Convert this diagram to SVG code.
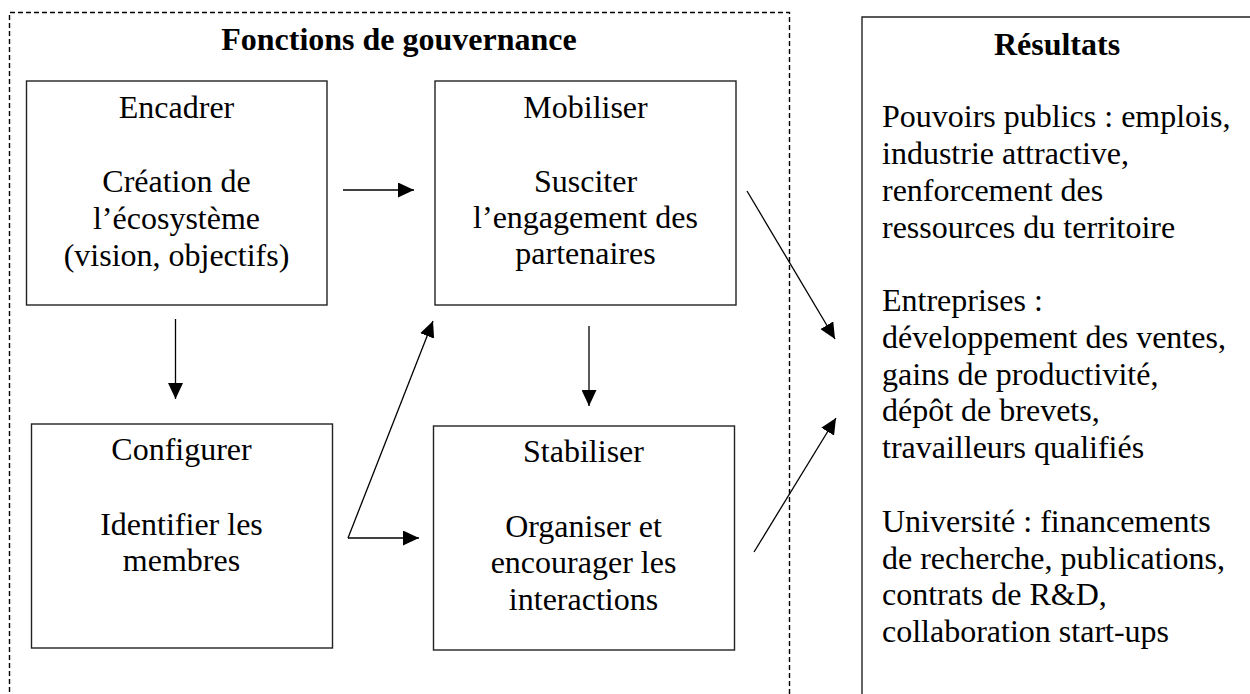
<svg xmlns="http://www.w3.org/2000/svg" width="1250" height="694" viewBox="0 0 1250 694">
<defs>
<marker id="ah" markerUnits="userSpaceOnUse" markerWidth="16" markerHeight="15" refX="16" refY="7.5" orient="auto" viewBox="0 0 16 15">
<path d="M0,0 L16,7.5 L0,15 z" fill="#000"/>
</marker>
<style>
text{font-family:"Liberation Serif","Times New Roman",serif;font-size:32px;fill:#000}
.c{text-anchor:middle}
.b{font-weight:bold}
.box{fill:#fff;stroke:#222;stroke-width:1.4}
.con{stroke:#000;stroke-width:1.3;fill:none}
.arr{marker-end:url(#ah)}
</style>
</defs>
<rect width="1250" height="694" fill="#fff"/>
<g id="gouvernance">
<path d="M9.5,700 V12.5 H789.5 V700" fill="none" stroke="#000" stroke-width="1.4" stroke-dasharray="5,3"/>
<text class="c b" x="399" y="50">Fonctions de gouvernance</text>
</g>
<g id="resultats">
<path d="M862,700 V17 H1260" class="box" fill="none"/>
<text class="c b" x="1057" y="55">Résultats</text>
<text x="882" y="127">Pouvoirs publics : emplois,</text>
<text x="882" y="164">industrie attractive,</text>
<text x="882" y="201">renforcement des</text>
<text x="882" y="238">ressources du territoire</text>
<text x="882" y="311">Entreprises :</text>
<text x="882" y="348">développement des ventes,</text>
<text x="882" y="384.6">gains de productivité,</text>
<text x="882" y="421.4">dépôt de brevets,</text>
<text x="882" y="458.2">travailleurs qualifiés</text>
<text x="882" y="531.8">Université : financements</text>
<text x="882" y="568.6">de recherche, publications,</text>
<text x="882" y="605.4">contrats de R&amp;D,</text>
<text x="882" y="642.2">collaboration start-ups</text>
</g>
<g id="encadrer">
<rect class="box" x="26.5" y="81" width="300.5" height="224"/>
<text class="c" x="176.5" y="118">Encadrer</text>
<text class="c" x="176.5" y="192">Création de</text>
<text class="c" x="176.5" y="229">l’écosystème</text>
<text class="c" x="176.5" y="266">(vision, objectifs)</text>
</g>
<g id="mobiliser">
<rect class="box" x="435" y="81" width="301" height="224"/>
<text class="c" x="585.5" y="118">Mobiliser</text>
<text class="c" x="585.5" y="192">Susciter</text>
<text class="c" x="585.5" y="228">l’engagement des</text>
<text class="c" x="585.5" y="264">partenaires</text>
</g>
<g id="configurer">
<rect class="box" x="31.5" y="424" width="301" height="224"/>
<text class="c" x="181.5" y="460">Configurer</text>
<text class="c" x="181.5" y="535">Identifier les</text>
<text class="c" x="181.5" y="571">membres</text>
</g>
<g id="stabiliser">
<rect class="box" x="433.5" y="426" width="301" height="224"/>
<text class="c" x="583.5" y="462">Stabiliser</text>
<text class="c" x="583.5" y="537">Organiser et</text>
<text class="c" x="583.5" y="573">encourager les</text>
<text class="c" x="583.5" y="610">interactions</text>
</g>
<g id="connectors">
<line class="con arr" x1="343" y1="190" x2="414" y2="190"/>
<line class="con arr" x1="175.5" y1="319" x2="175.5" y2="399"/>
<line class="con arr" x1="589" y1="326" x2="589" y2="406"/>
<line class="con arr" x1="348" y1="538" x2="419" y2="538"/>
<line class="con arr" x1="348" y1="538" x2="433" y2="321"/>
<line class="con arr" x1="747" y1="191" x2="835" y2="339"/>
<line class="con arr" x1="754" y1="552" x2="836" y2="418"/>
</g>
</svg>
